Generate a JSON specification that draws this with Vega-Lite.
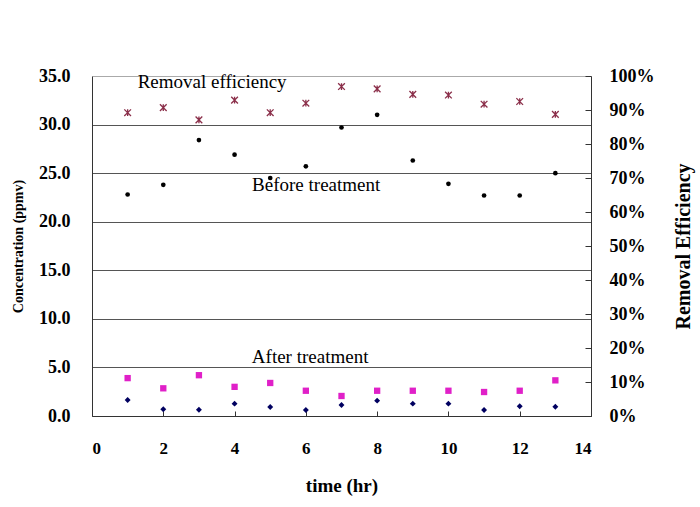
{
  "$schema": "https://vega.github.io/schema/vega-lite/v6.json",
  "width": 499,
  "height": 340,
  "autosize": {"type": "none"},
  "padding": {"left": 92, "top": 76, "right": 109, "bottom": 91},
  "background": "white",
  "config": {"view": {"stroke": null}, "font": "Liberation Serif"},
  "datasets": {
    "conc": [
      {"time": 1, "before": 22.8, "afterA": 3.9, "afterB": 1.65},
      {"time": 2, "before": 23.8, "afterA": 2.85, "afterB": 0.69},
      {"time": 3, "before": 28.4, "afterA": 4.2, "afterB": 0.65},
      {"time": 4, "before": 26.9, "afterA": 3.0, "afterB": 1.27},
      {"time": 5, "before": 24.5, "afterA": 3.4, "afterB": 0.93},
      {"time": 6, "before": 25.7, "afterA": 2.6, "afterB": 0.62},
      {"time": 7, "before": 29.7, "afterA": 2.06, "afterB": 1.13},
      {"time": 8, "before": 31.0, "afterA": 2.6, "afterB": 1.58},
      {"time": 9, "before": 26.3, "afterA": 2.6, "afterB": 1.27},
      {"time": 10, "before": 23.9, "afterA": 2.6, "afterB": 1.27},
      {"time": 11, "before": 22.7, "afterA": 2.47, "afterB": 0.62},
      {"time": 12, "before": 22.7, "afterA": 2.6, "afterB": 1.0},
      {"time": 13, "before": 25.0, "afterA": 3.67, "afterB": 0.96}
    ],
    "eff": [
      {"time": 1, "eff": 0.892},
      {"time": 2, "eff": 0.907},
      {"time": 3, "eff": 0.871},
      {"time": 4, "eff": 0.929},
      {"time": 5, "eff": 0.892},
      {"time": 6, "eff": 0.92},
      {"time": 7, "eff": 0.969},
      {"time": 8, "eff": 0.962},
      {"time": 9, "eff": 0.946},
      {"time": 10, "eff": 0.944},
      {"time": 11, "eff": 0.917},
      {"time": 12, "eff": 0.925},
      {"time": 13, "eff": 0.887}
    ],
    "notes": [
      {"time": 3.37, "value": 34.4, "label": "Removal efficiency"},
      {"time": 6.29, "value": 23.8, "label": "Before treatment"},
      {"time": 6.12, "value": 6.1, "label": "After treatment"}
    ]
  },
  "layer": [
    {
      "layer": [
        {
          "data": {"name": "conc"},
          "mark": {"type": "point", "shape": "circle", "filled": true, "color": "#000000", "size": 22, "opacity": 1},
          "encoding": {
            "x": {
              "field": "time", "type": "quantitative",
              "scale": {"domain": [0, 14], "nice": false},
              "axis": {
                "title": "time (hr)", "values": [0, 2, 4, 6, 8, 10, 12, 14],
                "grid": false, "tickSize": -5, "tickColor": "#333", "domainColor": "#333",
                "labelFont": "Liberation Serif", "labelFontWeight": "bold", "labelFontSize": 17, "labelColor": "#000",
                "labelPadding": 29,
                "titleFont": "Liberation Serif", "titleFontWeight": "bold", "titleFontSize": 19, "titleColor": "#000",
                "titlePadding": 20
              }
            },
            "y": {
              "field": "before", "type": "quantitative",
              "scale": {"domain": [0, 35], "nice": false},
              "axis": {
                "title": "Concentration (ppmv)", "values": [0, 5, 10, 15, 20, 25, 30, 35], "format": ".1f",
                "ticks": false, "domainColor": "#333",
                "gridColor": {"condition": {"test": "datum.value == 35", "value": "#aaaaaa"}, "value": "#555555"},
                "labelFont": "Liberation Serif", "labelFontWeight": "bold", "labelFontSize": 18, "labelColor": "#000",
                "labelPadding": 22,
                "titleFont": "Liberation Serif", "titleFontWeight": "bold", "titleFontSize": 14, "titleColor": "#000",
                "titlePadding": 13
              }
            }
          }
        },
        {
          "data": {"name": "conc"},
          "mark": {"type": "point", "shape": "square", "filled": true, "color": "#e020c8", "size": 40, "opacity": 1},
          "encoding": {
            "x": {"field": "time", "type": "quantitative"},
            "y": {"field": "afterA", "type": "quantitative"}
          }
        },
        {
          "data": {"name": "conc"},
          "mark": {"type": "point", "shape": "diamond", "filled": true, "color": "#000060", "size": 35, "opacity": 1},
          "encoding": {
            "x": {"field": "time", "type": "quantitative"},
            "y": {"field": "afterB", "type": "quantitative"}
          }
        },
        {
          "data": {"name": "notes"},
          "mark": {"type": "text", "font": "Liberation Serif", "fontSize": 19, "color": "#000", "align": "center", "baseline": "middle"},
          "encoding": {
            "x": {"field": "time", "type": "quantitative"},
            "y": {"field": "value", "type": "quantitative"},
            "text": {"field": "label"}
          }
        }
      ]
    },
    {
      "data": {"name": "eff"},
      "mark": {"type": "point", "shape": "M-1,-1L1,1M-1,1L1,-1M0,-1L0,1", "filled": false, "stroke": "#8b2f4a", "strokeWidth": 1.3, "size": 45, "opacity": 1},
      "encoding": {
        "x": {"field": "time", "type": "quantitative"},
        "y": {
          "field": "eff", "type": "quantitative",
          "scale": {"domain": [0, 1], "nice": false},
          "axis": {
            "orient": "right", "title": "Removal Efficiency", "format": ".0%",
            "values": [0, 0.1, 0.2, 0.3, 0.4, 0.5, 0.6, 0.7, 0.8, 0.9, 1],
            "grid": false, "tickSize": -6, "tickColor": "#333", "domainColor": "#333",
            "labelFont": "Liberation Serif", "labelFontWeight": "bold", "labelFontSize": 18, "labelColor": "#000",
            "labelPadding": 24,
            "titleFont": "Liberation Serif", "titleFontWeight": "bold", "titleFontSize": 20, "titleColor": "#000",
            "titleAngle": 270, "titlePadding": 39
          }
        }
      }
    }
  ],
  "resolve": {"scale": {"y": "independent"}}
}
